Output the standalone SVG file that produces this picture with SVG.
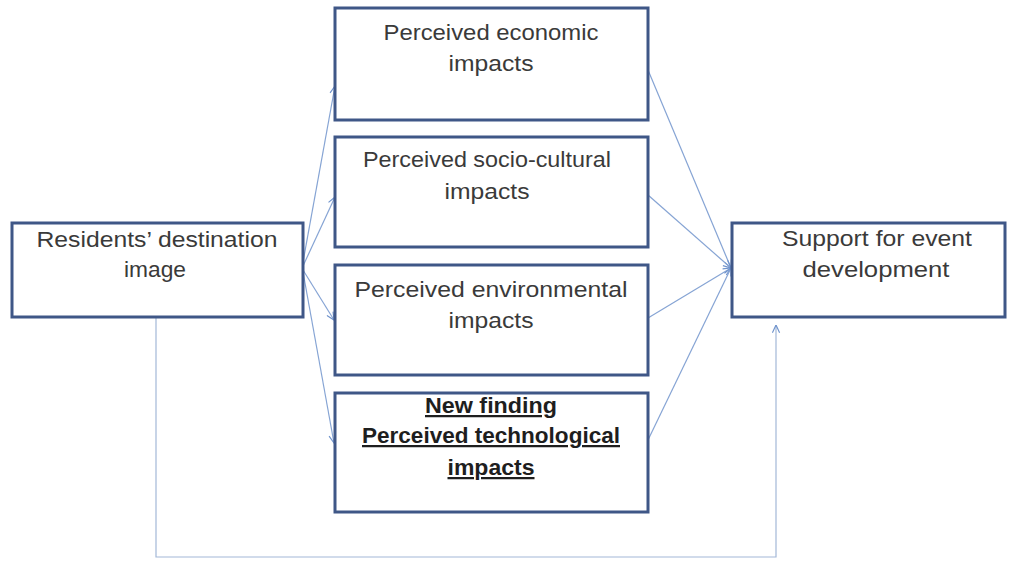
<svg xmlns="http://www.w3.org/2000/svg" width="1009" height="562" viewBox="0 0 1009 562">
<defs>
<marker id="arr" viewBox="0 0 10 10" refX="9.5" refY="5" markerWidth="9" markerHeight="9" orient="auto" markerUnits="userSpaceOnUse">
<path d="M1,1 L9.5,5 L1,9" fill="none" stroke="#6f93cc" stroke-width="1.3"/>
</marker>
</defs>
<style>
.box{fill:#fff;stroke:#3f5787;stroke-width:3}
.lbl{font-family:"Liberation Sans",Arial,sans-serif;font-size:22.5px;fill:#3a3a3a;text-anchor:middle}
.bold{font-weight:bold;fill:#1e1e1e;text-decoration:underline}
.con{fill:none;stroke:#86a4d4;stroke-width:1.2;marker-end:url(#arr)}
</style>
<rect width="1009" height="562" fill="#fff"/>
<g id="connectors">
<line class="con" x1="303" y1="262" x2="335" y2="86"/>
<line class="con" x1="303" y1="266" x2="335" y2="197"/>
<line class="con" x1="303" y1="270" x2="334" y2="320"/>
<line class="con" x1="303" y1="272" x2="334" y2="443"/>
<line class="con" x1="648" y1="70" x2="731" y2="268"/>
<line class="con" x1="648" y1="195" x2="731" y2="268"/>
<line class="con" x1="648" y1="318" x2="731" y2="268"/>
<line class="con" x1="648" y1="440" x2="731" y2="268"/>
<polyline class="con" style="stroke:#a3b8d8" points="156,318 156,557 776,557 776,325"/>
</g>
<g id="residents">
<rect class="box" x="12" y="223" width="291" height="94"/>
<text class="lbl" x="157" y="247" textLength="241" lengthAdjust="spacingAndGlyphs">Residents’ destination</text>
<text class="lbl" x="155" y="277" textLength="62" lengthAdjust="spacingAndGlyphs">image</text>
</g>
<g id="economic">
<rect class="box" x="335" y="8" width="313" height="112"/>
<text class="lbl" x="491" y="40" textLength="215" lengthAdjust="spacingAndGlyphs">Perceived economic</text>
<text class="lbl" x="491" y="71" textLength="85" lengthAdjust="spacingAndGlyphs">impacts</text>
</g>
<g id="socio">
<rect class="box" x="335" y="137" width="313" height="110"/>
<text class="lbl" x="487" y="167" textLength="248" lengthAdjust="spacingAndGlyphs">Perceived socio-cultural</text>
<text class="lbl" x="487" y="199" textLength="85" lengthAdjust="spacingAndGlyphs">impacts</text>
</g>
<g id="environmental">
<rect class="box" x="335" y="265" width="313" height="110"/>
<text class="lbl" x="491" y="297" textLength="273" lengthAdjust="spacingAndGlyphs">Perceived environmental</text>
<text class="lbl" x="491" y="328" textLength="85" lengthAdjust="spacingAndGlyphs">impacts</text>
</g>
<g id="technological">
<rect class="box" x="335" y="393" width="313" height="119"/>
<text class="lbl bold" x="491" y="413" textLength="132" lengthAdjust="spacingAndGlyphs">New finding</text>
<text class="lbl bold" x="491" y="443" textLength="258" lengthAdjust="spacingAndGlyphs">Perceived technological</text>
<text class="lbl bold" x="491" y="475" textLength="87" lengthAdjust="spacingAndGlyphs">impacts</text>
</g>
<g id="support">
<rect class="box" x="732" y="223" width="273" height="94"/>
<text class="lbl" x="877" y="246" textLength="190" lengthAdjust="spacingAndGlyphs">Support for event</text>
<text class="lbl" x="876" y="277" textLength="147" lengthAdjust="spacingAndGlyphs">development</text>
</g>
</svg>
